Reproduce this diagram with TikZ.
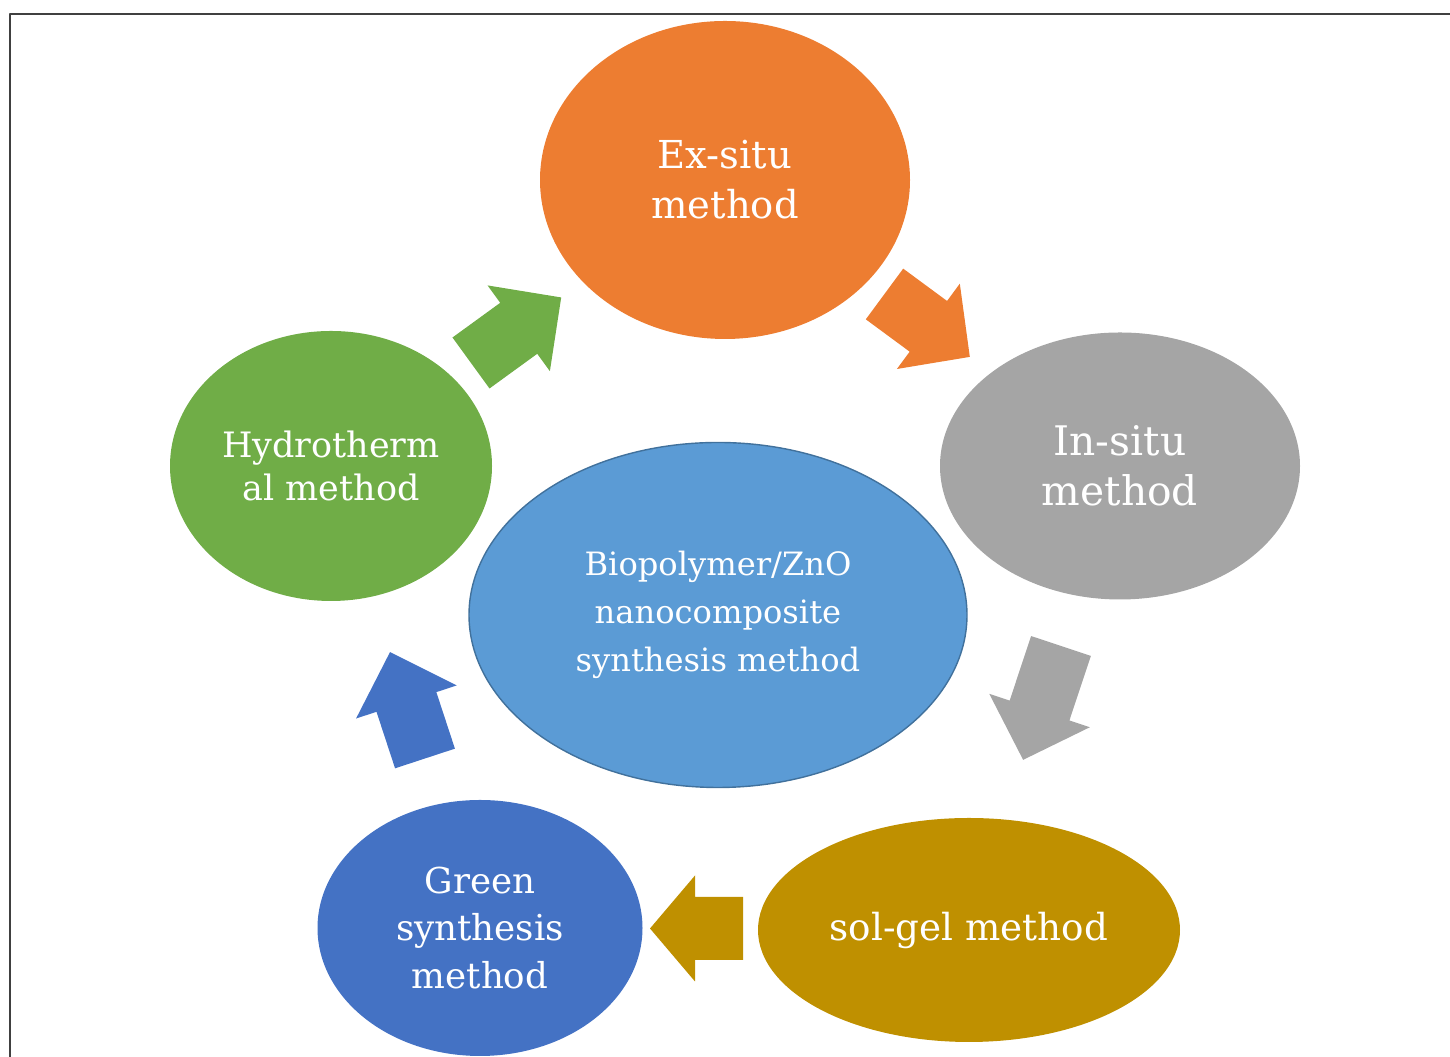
\documentclass[tikz,border=0pt]{standalone}
\usepackage{fontspec}
\setmainfont{DejaVu Serif}
\usetikzlibrary{shapes.geometric}
\definecolor{exorange}{HTML}{ED7D31}
\definecolor{ingray}{HTML}{A5A5A5}
\definecolor{hydgreen}{HTML}{70AD47}
\definecolor{corefill}{HTML}{5B9BD5}
\definecolor{coreline}{HTML}{41719C}
\definecolor{solgold}{HTML}{BF9000}
\definecolor{grnblue}{HTML}{4472C4}
% block arrow: colour, tail centre, angle, length, head length
\newcommand{\blockarrow}[5]{%
  \fill[#1,shift={(#2)},rotate=#3] (0,-0.63) -- (#4-#5,-0.63) -- (#4-#5,-1.06) -- (#4,0)
    -- (#4-#5,1.06) -- (#4-#5,0.63) -- (0,0.63) -- cycle;}

\begin{document}
\begin{tikzpicture}[line cap=round,line join=round,x=1cm,y=1cm,
    method/.style={ellipse,inner sep=0pt,text=white,align=center}]
    \useasboundingbox (0,0) rectangle (29,21.14);
    % frame
    \draw [line width=1.6pt,color=black!75] (0.2,0) -- (0.2,20.86) -- (29,20.86);
    % methods
    \node [method,fill=exorange,minimum width=7.4cm,minimum height=6.36cm,
        font=\fontsize{21.9}{28.5}\selectfont] (exsitu) at (14.5,17.54) {Ex-situ\\method};
    \node [method,fill=ingray,minimum width=7.2cm,minimum height=5.34cm,
        font=\fontsize{23.2}{28.5}\selectfont] (insitu) at (22.4,11.82) {In-situ\\method};
    \node [method,fill=hydgreen,minimum width=6.44cm,minimum height=5.4cm,
        font=\fontsize{19.9}{24.5}\selectfont] (hydro) at (6.62,11.82) {Hydrotherm\\al method};
    \node [method,fill=corefill,draw=coreline,line width=0.8pt,minimum width=9.96cm,minimum height=6.9cm,
        font=\fontsize{18.3}{27.3}\selectfont] (core) at (14.36,8.84) {Biopolymer/ZnO\\nanocomposite\\synthesis method};
    \node [method,fill=solgold,minimum width=8.44cm,minimum height=4.48cm,
        font=\fontsize{21.2}{26}\selectfont] (solgel) at (19.38,2.54) {sol-gel method};
    \node [method,fill=grnblue,minimum width=6.5cm,minimum height=5.12cm,
        font=\fontsize{20.3}{26.8}\selectfont] (green) at (9.6,2.58) {Green\\synthesis\\method};
    % arrows
    \blockarrow{hydgreen}{9.42,13.88}{36}{2.23}{1.05}
    \blockarrow{exorange}{17.69,15.26}{-36.4}{2.12}{1.03}
    \blockarrow{ingray}{21.22,8.22}{-108.4}{2.4}{1.04}
    \blockarrow{solgold}{14.86,2.57}{180}{1.86}{0.9}
    \blockarrow{grnblue}{8.5,5.97}{108.2}{2.24}{1.05}
\end{tikzpicture}
\end{document}
